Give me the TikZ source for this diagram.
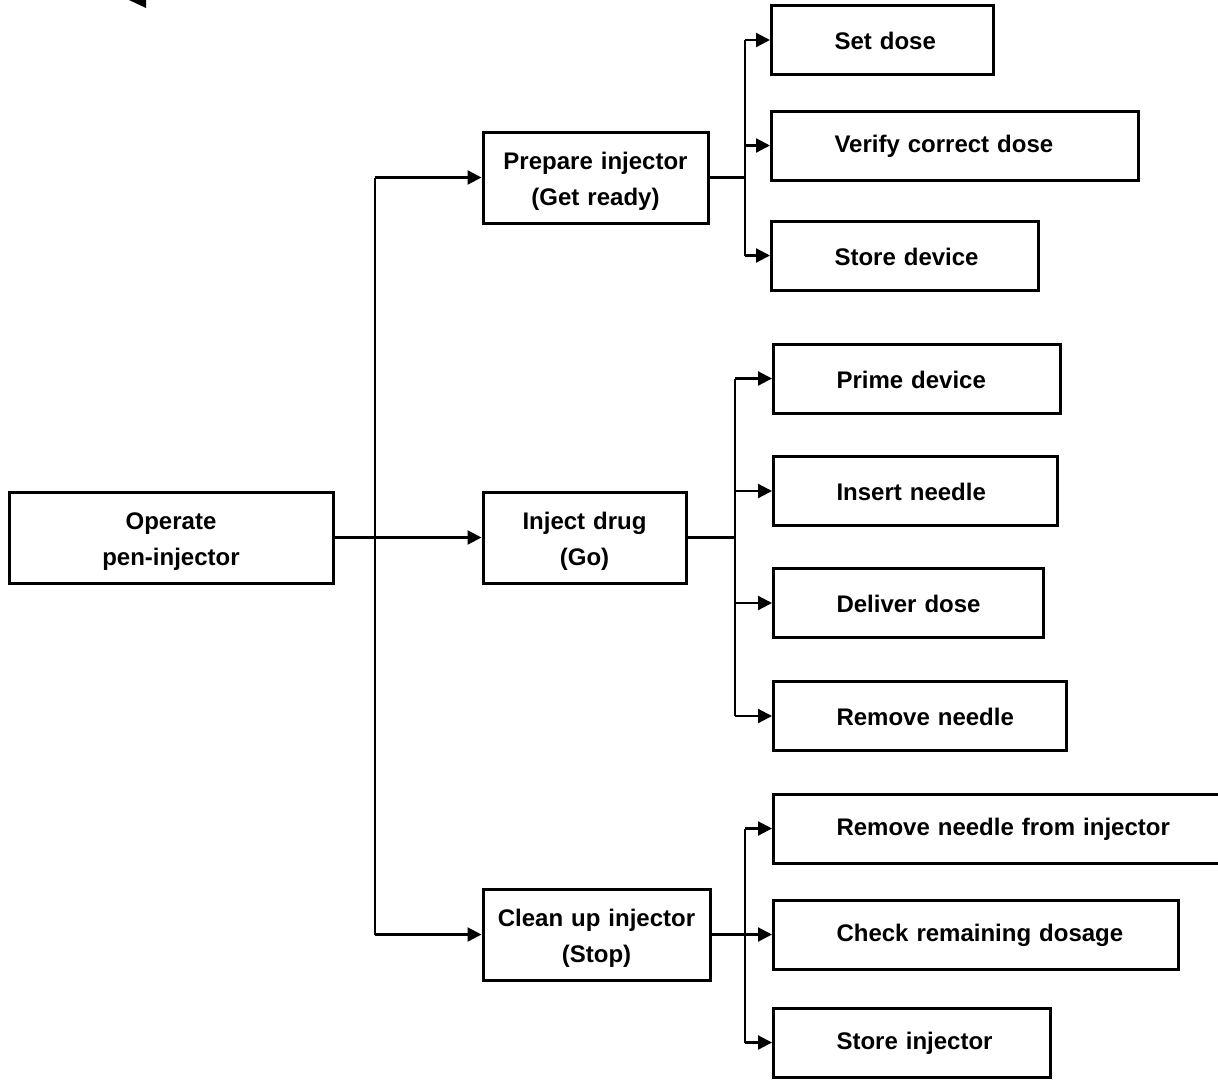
\documentclass[tikz,border=0pt]{standalone}
\usepackage{fontspec}
\setmainfont{Liberation Sans}
\usetikzlibrary{arrows.meta}
\begin{document}
\begin{tikzpicture}[x=1pt,y=-1pt,
  txt/.style={font=\fontsize{24}{36}\selectfont\bfseries},
  lbox/.style={txt,draw,line width=3pt,inner sep=0pt,text width=#1,align=center,minimum height=91pt,
    execute at begin node={\rule{0pt}{24pt}}},
  rbox/.style={txt,draw,line width=3pt,inner xsep=0pt,inner ysep=0pt,anchor=west,
    minimum height=69pt,text width=#1,align=left,execute at begin node={\hspace*{63pt}\rule{0pt}{19.5pt}}},
  conn/.style={line width=2.2pt},
  arr/.style={conn,-{Triangle[length=14pt,width=14pt]}}]
\useasboundingbox (0,0) rectangle (1218,1080);
\clip (0,0) rectangle (1218,1080);
% stray mark at top
\fill (129,0) -- (146,0) -- (146,8) -- cycle;
% left column
\node[lbox=324pt] (op) at (171,537.5) {Operate\\pen-injector};
\node[lbox=225pt] (prep) at (595.5,177.5) {Prepare injector\\(Get ready)};
\node[lbox=203pt] (inj) at (584.5,537.5) {Inject drug\\(Go)};
\node[lbox=227pt] (clean) at (596.5,934.5) {Clean up injector\\(Stop)};
% right column
\node[rbox=222pt] (set) at (770,40) {Set dose};
\node[rbox=367pt] (ver) at (770,145.5) {Verify correct dose};
\node[rbox=267pt] (sto) at (770,255.5) {Store device};
\node[rbox=287pt] (pri) at (772,378.5) {Prime device};
\node[rbox=284pt] (ins) at (772,491) {Insert needle};
\node[rbox=270pt] (del) at (772,603) {Deliver dose};
\node[rbox=293pt] (rem) at (772,716) {Remove needle};
\node[rbox=480pt] (remi) at (772,828.5) {Remove needle from injector};
\node[rbox=405pt] (chk) at (772,934.5) {Check remaining dosage};
\node[rbox=277pt] (stoi) at (772,1042.5) {Store injector};
% junction x positions
\coordinate (tr) at (375,0);
\coordinate (b1) at (745,0);
\coordinate (b2) at (735,0);
\coordinate (b3) at (745,0);
% trunk
\draw[arr] (op.east) -- (inj.west);
\draw[conn] (prep.west -| tr) -- (clean.west -| tr);
\draw[arr] (prep.west -| tr) -- (prep.west);
\draw[arr] (clean.west -| tr) -- (clean.west);
% top branch
\draw[conn] (prep.east) -- (prep.east -| b1);
\draw[conn] (set.west -| b1) -- (sto.west -| b1);
\draw[arr] (set.west -| b1) -- (set.west);
\draw[arr] (ver.west -| b1) -- (ver.west);
\draw[arr] (sto.west -| b1) -- (sto.west);
% middle branch
\draw[conn] (inj.east) -- (inj.east -| b2);
\draw[conn] (pri.west -| b2) -- (rem.west -| b2);
\draw[arr] (pri.west -| b2) -- (pri.west);
\draw[arr] (ins.west -| b2) -- (ins.west);
\draw[arr] (del.west -| b2) -- (del.west);
\draw[arr] (rem.west -| b2) -- (rem.west);
% bottom branch
\draw[conn] (clean.east) -- (clean.east -| b3);
\draw[conn] (remi.west -| b3) -- (stoi.west -| b3);
\draw[arr] (remi.west -| b3) -- (remi.west);
\draw[arr] (chk.west -| b3) -- (chk.west);
\draw[arr] (stoi.west -| b3) -- (stoi.west);
\end{tikzpicture}
\end{document}
